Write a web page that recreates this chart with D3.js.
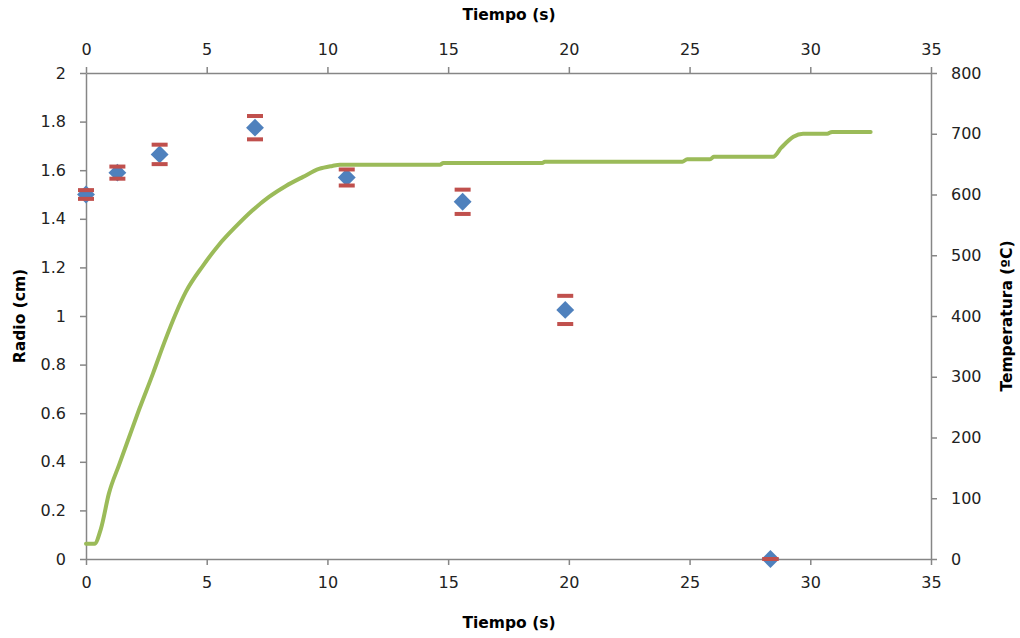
<!DOCTYPE html>
<html>
<head>
<meta charset="utf-8">
<script src="https://cdn.jsdelivr.net/npm/d3@7"></script>
<style>
body { margin: 0; background: #fff; }
text { font-family: "DejaVu Sans", sans-serif; }
</style>
</head>
<body>
<script>
var w = 1020;
var h = 638;

// radius measurements (left axis)
var tiempoRadio = [0, 1.3, 3.05, 7.0, 10.8, 15.6, 19.85, 28.35];
var radio = [1.5, 1.59, 1.665, 1.775, 1.57, 1.47, 1.025, 0];
var errRadio = [0.018, 0.025, 0.04, 0.048, 0.033, 0.05, 0.058, 0];

// temperature curve (right axis)
var tiempoTemp = [0, 0.35, 0.62, 0.95, 1.37, 1.78, 2.2, 2.78, 3.23, 3.73, 4.14, 4.85, 5.5, 6.2, 6.9, 7.58, 8.28, 8.99, 9.65, 10.2, 10.52, 14.66, 14.8, 18.9, 19.0, 24.7, 24.9, 25.85, 26.0, 28.46, 28.8, 29.3, 29.7, 30.7, 30.9, 32.5];
var temperatura = [25, 25, 50, 108, 155, 200, 246, 306, 355, 405, 440, 483, 517, 547, 574, 596, 614, 629, 642, 647, 649, 649, 652, 652, 654, 654, 658, 658, 662, 662, 677, 695, 700, 700, 703, 703];

var xTicks = [0, 5, 10, 15, 20, 25, 30, 35];
var yTicksL = [0, 0.2, 0.4, 0.6, 0.8, 1, 1.2, 1.4, 1.6, 1.8, 2];
var yTicksR = [0, 100, 200, 300, 400, 500, 600, 700, 800];

var mLeft = 86, mRight = 931, mTop = 73, mBottom = 559;
var axisColor = "#868686";

var svg = d3.select("body").append("svg")
    .attr("width", w)
    .attr("height", h);

var x = d3.scaleLinear().domain([0, 35]).range([mLeft, mRight]);
var yL = d3.scaleLinear().domain([0, 2]).range([mBottom, mTop]);
var yR = d3.scaleLinear().domain([0, 800]).range([mBottom, mTop]);

function styleAxis(g) {
    g.selectAll("path, line").attr("stroke", axisColor).attr("stroke-width", 1.5);
    g.selectAll("text").attr("font-size", "16px").attr("fill", "#222");
}

svg.append("g")
    .attr("transform", "translate(0," + mBottom + ")")
    .call(d3.axisBottom(x).tickValues(xTicks).tickSize(6).tickSizeOuter(0).tickPadding(12))
    .call(styleAxis);

svg.append("g")
    .attr("transform", "translate(0," + mTop + ")")
    .call(d3.axisTop(x).tickValues(xTicks).tickSize(6).tickSizeOuter(0).tickPadding(12))
    .call(styleAxis);

svg.append("g")
    .attr("transform", "translate(" + mLeft + ",0)")
    .call(d3.axisLeft(yL).tickValues(yTicksL).tickFormat(d3.format("")).tickSize(6).tickSizeOuter(0).tickPadding(14))
    .call(styleAxis);

svg.append("g")
    .attr("transform", "translate(" + mRight + ",0)")
    .call(d3.axisRight(yR).tickValues(yTicksR).tickSize(6).tickSizeOuter(0).tickPadding(14))
    .call(styleAxis);

// titles
svg.append("text").text("Tiempo (s)")
    .attr("x", 509).attr("y", 20)
    .attr("text-anchor", "middle").attr("font-size", "15.5px").attr("font-weight", "bold");
svg.append("text").text("Tiempo (s)")
    .attr("x", 509).attr("y", 628)
    .attr("text-anchor", "middle").attr("font-size", "15.5px").attr("font-weight", "bold");
svg.append("text").text("Radio (cm)")
    .attr("transform", "translate(25,316) rotate(-90)")
    .attr("text-anchor", "middle").attr("font-size", "15.5px").attr("font-weight", "bold");
svg.append("text").text("Temperatura (ºC)")
    .attr("transform", "translate(1012,316) rotate(-90)")
    .attr("text-anchor", "middle").attr("font-size", "15.5px").attr("font-weight", "bold");

// temperature line
var tempData = tiempoTemp.map(function(t, i) { return [t, temperatura[i]]; });
var line = d3.line()
    .x(function(d) { return x(d[0]); })
    .y(function(d) { return yR(d[1]); })
    .curve(d3.curveMonotoneX);

svg.append("path")
    .datum(tempData)
    .attr("d", line)
    .attr("fill", "none")
    .attr("stroke", "#9BBB59")
    .attr("stroke-width", 4)
    .attr("stroke-linejoin", "round")
    .attr("stroke-linecap", "round");

// radius points with error caps
var pts = tiempoRadio.map(function(t, i) { return {t: t, r: radio[i], e: errRadio[i]}; });

svg.selectAll("path.pt")
    .data(pts)
    .enter()
    .append("path")
    .attr("class", "pt")
    .attr("d", d3.symbol().type(d3.symbolSquare).size(160))
    .attr("transform", function(d) { return "translate(" + x(d.t) + "," + yL(d.r) + ") rotate(45)"; })
    .attr("fill", "#4F81BD");

var caps = [];
pts.forEach(function(d) {
    caps.push({t: d.t, v: d.r + d.e});
    caps.push({t: d.t, v: d.r - d.e});
});

svg.selectAll("rect.cap")
    .data(caps)
    .enter()
    .append("rect")
    .attr("class", "cap")
    .attr("x", function(d) { return x(d.t) - 8; })
    .attr("y", function(d) { return yL(d.v) - 2; })
    .attr("width", 16)
    .attr("height", 4)
    .attr("fill", "#C0504D");
</script>
</body>
</html>
